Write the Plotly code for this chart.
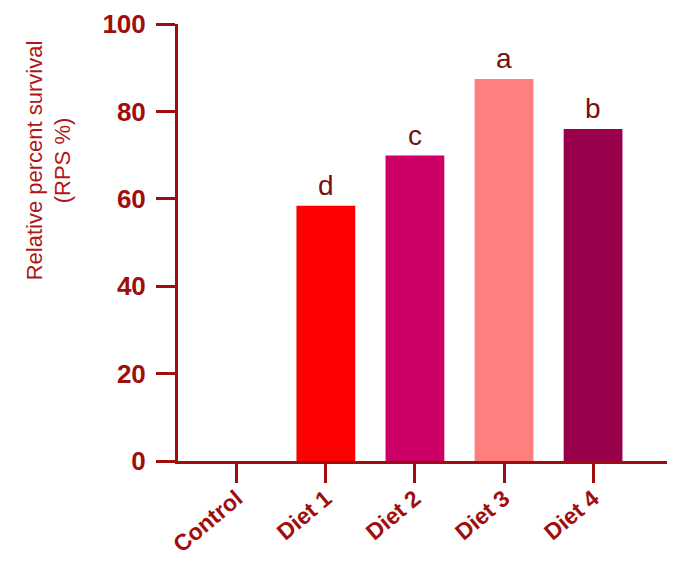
import plotly.graph_objects as go

categories = ["Control", "Diet 1", "Diet 2", "Diet 3", "Diet 4"]
rps_values = [0, 58.4, 69.9, 87.4, 76.0]
letters = ["", "d", "c", "a", "b"]
bar_colors = ["#ffffff", "#ff0000", "#cc0066", "#ff7f7f", "#99004c"]
y_ticks = [0, 20, 40, 60, 80, 100]

axis_color = "#a00d0d"

x_pos = list(range(len(categories)))

fig = go.Figure(go.Bar(
    x=x_pos,
    y=rps_values,
    marker=dict(color=bar_colors, line=dict(width=0)),
    width=0.66,
    cliponaxis=False,
))

annotations = [dict(
    text="Relative percent survival<br>(RPS %)",
    xref="paper", yref="paper",
    x=-0.265, y=0.689,
    xanchor="center", yanchor="middle",
    textangle=-90, showarrow=False,
    font=dict(family="Arial, Liberation Sans", size=22, color="#b01818"),
)]
for xi, yi, lab in zip(x_pos, rps_values, letters):
    if lab:
        annotations.append(dict(
            x=xi, y=yi, xref="x", yref="y", text=lab, showarrow=False,
            yanchor="bottom", yshift=3,
            font=dict(family="Arial, Liberation Sans", size=28, color="#7a1010"),
        ))

# page body has an 8px margin, so the figure is sized to fit the 675x572 window
fig.update_layout(
    width=659, height=556,
    margin=dict(l=170, r=0, t=16, b=103),
    plot_bgcolor="white", paper_bgcolor="white",
    showlegend=False,
    font=dict(family="Arial, Liberation Sans", color=axis_color),
    xaxis=dict(
        range=[-0.66, 4.83],
        tickmode="array",
        tickvals=x_pos,
        ticktext=categories,
        tickangle=-40,
        ticks="outside", ticklen=19, tickwidth=3, tickcolor=axis_color,
        showline=True, linewidth=3, linecolor=axis_color,
        showgrid=False, zeroline=False, automargin=False,
        ticklabelstandoff=-7,
        tickfont=dict(family="Arial, Liberation Sans", size=23, color=axis_color, weight="bold"),
    ),
    yaxis=dict(
        range=[0, 100],
        tickmode="array",
        tickvals=y_ticks,
        ticks="outside", ticklen=19, tickwidth=3, tickcolor=axis_color,
        showline=True, linewidth=3, linecolor=axis_color,
        showgrid=False, zeroline=False, automargin=False,
        ticklabelstandoff=5,
        tickfont=dict(family="Arial, Liberation Sans", size=26, color=axis_color, weight="bold"),
    ),
    annotations=annotations,
)

fig.write_html("out.html")
